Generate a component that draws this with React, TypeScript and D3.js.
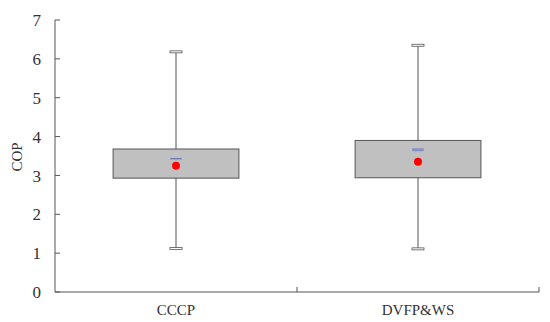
import React from "react"
import * as d3 from "d3"

const categories = ["CCCP", "DVFP&WS"]
const whiskerLow = [1.12, 1.11]
const q1 = [2.93, 2.94]
const median = [3.43, 3.66]
const q3 = [3.68, 3.9]
const whiskerHigh = [6.18, 6.35]
const mean = [3.25, 3.35]
const yTicks = [0, 1, 2, 3, 4, 5, 6, 7]

const width = 550
const height = 322
const margin = { top: 20, right: 11, bottom: 30, left: 55 }

const App: React.FC = () => {
  const innerW = width - margin.left - margin.right
  const innerH = height - margin.top - margin.bottom

  const x = d3.scaleBand().domain(categories).range([0, innerW]).paddingInner(0).paddingOuter(0)
  const y = d3.scaleLinear().domain([0, 7]).range([innerH, 0])

  const boxW = x.bandwidth() * 0.52
  const capW = 12
  const font = "'Liberation Serif', 'DejaVu Serif', serif"
  const axisColor = "#555"

  return (
    <svg
      width={width}
      height={height}
      style={{ position: "absolute", left: 0, top: 0, background: "#fff" }}
    >
      <g transform={`translate(${margin.left},${margin.top})`}>
        {/* y axis */}
        <line x1={0} x2={0} y1={0} y2={innerH} stroke={axisColor} />
        {yTicks.map((t) => (
          <g key={t} transform={`translate(0,${y(t)})`}>
            <line x1={0} x2={5} stroke={axisColor} />
            <text x={-14} dy="0.36em" textAnchor="end" fontFamily={font} fontSize={17} fill="#333">
              {t}
            </text>
          </g>
        ))}
        <text
          transform={`translate(${22 - margin.left},${137}) rotate(-90)`}
          textAnchor="middle"
          fontFamily={font}
          fontSize={15}
          fill="#333"
        >
          COP
        </text>

        {/* x axis */}
        <line x1={0} x2={innerW} y1={innerH} y2={innerH} stroke={axisColor} />
        {categories.map((c) => (
          <g key={c}>
            <line
              x1={(x(c) ?? 0) + x.bandwidth()}
              x2={(x(c) ?? 0) + x.bandwidth()}
              y1={innerH}
              y2={innerH - 5}
              stroke={axisColor}
            />
            <text
              x={(x(c) ?? 0) + x.bandwidth() / 2}
              y={innerH + 23}
              textAnchor="middle"
              fontFamily={font}
              fontSize={15}
              fill="#333"
            >
              {c}
            </text>
          </g>
        ))}

        {/* boxes */}
        {categories.map((c, i) => {
          const cx = (x(c) ?? 0) + x.bandwidth() / 2
          return (
            <g key={c}>
              <line x1={cx} x2={cx} y1={y(whiskerHigh[i])} y2={y(whiskerLow[i])} stroke={axisColor} />
              <rect
                x={cx - boxW / 2}
                y={y(q3[i])}
                width={boxW}
                height={y(q1[i]) - y(q3[i])}
                fill="#c0c0c0"
                stroke={axisColor}
              />
              <rect
                x={cx - capW / 2}
                y={y(whiskerHigh[i]) - 1}
                width={capW}
                height={2}
                fill="#fff"
                stroke={axisColor}
                strokeWidth={0.8}
              />
              <rect
                x={cx - capW / 2}
                y={y(whiskerLow[i]) - 1}
                width={capW}
                height={2}
                fill="#fff"
                stroke={axisColor}
                strokeWidth={0.8}
              />
              <rect
                x={cx - capW / 2}
                y={y(median[i]) - (i === 0 ? 0.5 : 1.5)}
                width={capW}
                height={i === 0 ? 1 : 3}
                rx={1}
                fill={i === 0 ? "#5560b0" : "#8890c8"}
              />
              <circle cx={cx} cy={y(mean[i])} r={4} fill="#ff0000" />
            </g>
          )
        })}
      </g>
    </svg>
  )
}

export default App
